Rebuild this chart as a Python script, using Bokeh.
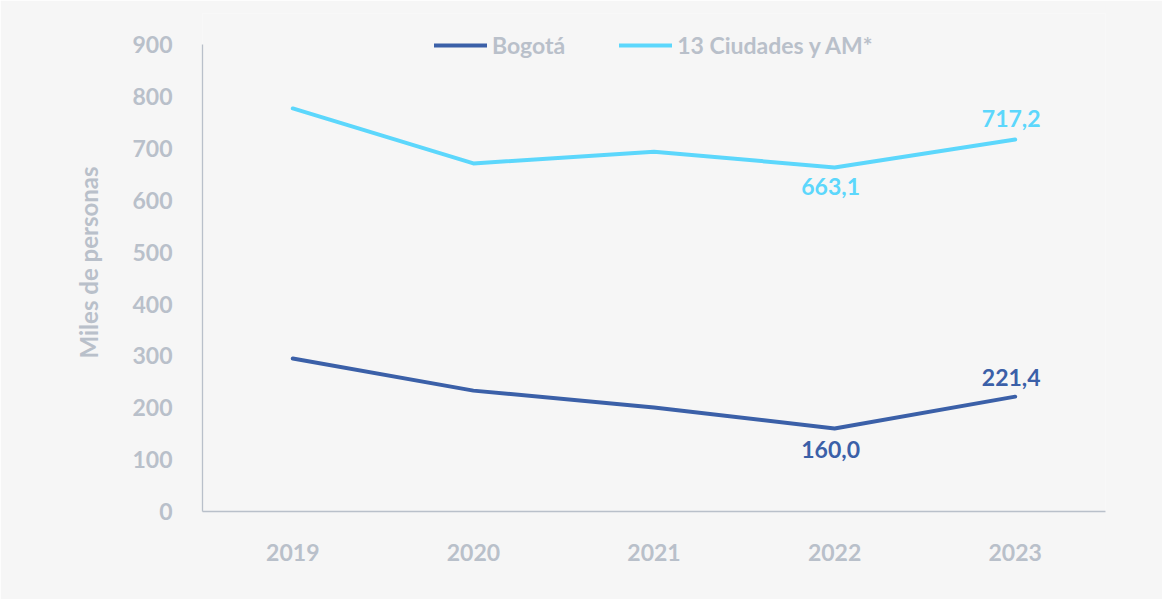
from bokeh.plotting import figure
from bokeh.models import (ColumnDataSource, FactorRange, Range1d, FixedTicker,
                          Legend, LegendItem)
from bokeh.core.properties import value
from bokeh.embed import file_html
from bokeh.resources import INLINE

# ---- data ----
years = ["2019", "2020", "2021", "2022", "2023"]
bogota = [295.0, 233.0, 200.5, 160.0, 221.4]
ciudades = [777.0, 671.0, 693.5, 663.1, 717.2]
series_names = ["Bogotá", "13 Ciudades y AM*"]
y_ticks = [0, 100, 200, 300, 400, 500, 600, 700, 800, 900]
y_label = "Miles de personas"

# years whose value is written on the line
label_years_bog = ["2022", "2023"]
label_years_ciu = ["2022", "2023"]

# ---- style ----
FONT = "Lato"
GRAY = "#b9c0ca"
BLUE = "#3b60a8"
CYAN = "#5cd7fc"
BG = "#f6f6f6"

p = figure(width=1162, height=599, output_backend="svg", toolbar_location=None,
           x_range=FactorRange(*years, range_padding=0),
           y_range=Range1d(0, 960),
           min_border_left=202, min_border_right=57,
           min_border_top=13, min_border_bottom=88)
p.background_fill_color = BG
p.border_fill_color = BG
p.outline_line_color = None
p.grid.visible = False

src = ColumnDataSource(dict(x=years, bog=bogota, ciu=ciudades))
r_bog = p.line("x", "bog", source=src, line_color=BLUE, line_width=4,
               line_join="round", line_cap="round")
r_ciu = p.line("x", "ciu", source=src, line_color=CYAN, line_width=4,
               line_join="round", line_cap="round")

def fmt(v):
    return f"{v:.1f}".replace(".", ",")

def add_labels(yrs, vals, color, offsets):
    d = dict(x=yrs, y=[vals[years.index(y)] for y in yrs],
             t=[fmt(vals[years.index(y)]) for y in yrs], oy=offsets)
    s = ColumnDataSource(d)
    p.text("x", "y", text="t", source=s, text_color=color,
           text_font=value(FONT), text_font_style="bold",
           text_font_size="23px", text_align="center",
           text_baseline="middle", x_offset=-4, y_offset="oy")

add_labels(label_years_bog, bogota, BLUE, [21, -19])
add_labels(label_years_ciu, ciudades, CYAN, [19, -21])

# axes
ya = p.yaxis[0]
ya.ticker = FixedTicker(ticks=y_ticks)
ya.bounds = (0, 900)
ya.axis_label = y_label
for ax in (p.xaxis[0], ya):
    ax.axis_line_color = GRAY
    ax.axis_line_width = 1.3
    ax.major_tick_line_color = None
    ax.minor_tick_line_color = None
    ax.major_label_text_color = GRAY
    ax.major_label_text_font = FONT
    ax.major_label_text_font_style = "bold"
    ax.major_label_text_font_size = "23px"
ya.major_label_standoff = 24
p.xaxis[0].major_label_standoff = 26
ya.axis_label_text_color = GRAY
ya.axis_label_text_font = FONT
ya.axis_label_text_font_style = "bold"
ya.axis_label_text_font_size = "24px"
ya.axis_label_standoff = 26

legend = Legend(items=[LegendItem(label=series_names[0], renderers=[r_bog]),
                       LegendItem(label=series_names[1], renderers=[r_ciu])],
                location=(232, 452), orientation="horizontal",
                background_fill_alpha=0, border_line_color=None,
                padding=0, margin=0, spacing=54,
                glyph_width=53, label_standoff=5,
                label_text_color=GRAY, label_text_font=FONT,
                label_text_font_style="bold", label_text_font_size="23px")
p.add_layout(legend)

open("out.html", "w").write(file_html(p, INLINE))
